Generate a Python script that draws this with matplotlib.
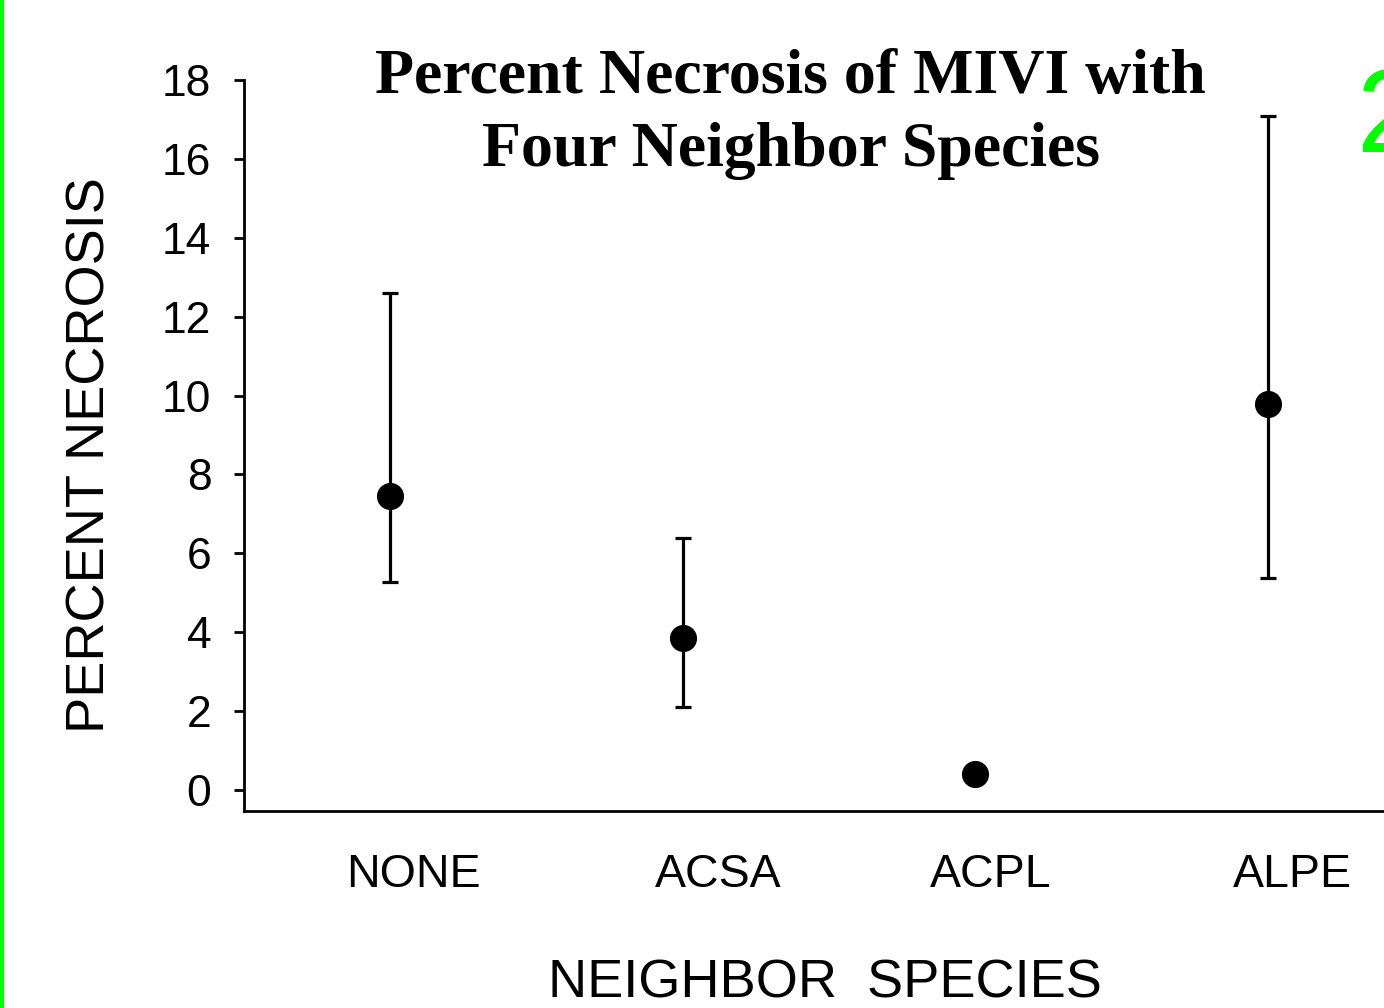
import matplotlib
matplotlib.use("Agg")
import matplotlib.pyplot as plt
from matplotlib.patches import Rectangle
import numpy as np

# ---- data ----
categories = ["NONE", "ACSA", "ACPL", "ALPE"]
means = [7.45, 3.85, 0.41, 9.79]
upper = [12.61, 6.39, 0.41, 17.09]
lower = [5.28, 2.10, 0.41, 5.38]
yticks = [0, 2, 4, 6, 8, 10, 12, 14, 16, 18]
title_lines = ["Percent Necrosis of MIVI with", "Four Neighbor Species"]
xlabel = "NEIGHBOR  SPECIES"
ylabel = "PERCENT NECROSIS"

# ---- figure ----
W, H = 1384, 1008
fig = plt.figure(figsize=(W / 100, H / 100), dpi=100)
fig.patch.set_facecolor("white")

ax_left = 244 / W
ax_w = 1170 / W
ax_bottom = (H - 811) / H
ax_h = (811 - 80) / H
ax = fig.add_axes([ax_left, ax_bottom, ax_w, ax_h])

x = np.arange(1, len(categories) + 1)
m = np.array(means)
yerr = np.vstack([m - np.array(lower), np.array(upper) - m])

ax.errorbar(x, m, yerr=yerr, fmt="o", color="black", ms=18.5,
            elinewidth=2.3, capsize=5.5, capthick=2.3, zorder=3)

ax.set_xlim(0.5, 4.5)
ax.set_ylim(-0.53, 18)
ax.set_yticks(yticks)
ax.set_yticklabels([str(t) for t in yticks], fontsize=32, family="Liberation Sans")
label_nudge = [0.079, 0.12, 0.054, 0.086]
ax.set_xticks(x + np.array(label_nudge))
ax.set_xticklabels(categories, fontsize=33.5, family="Liberation Sans")

for s in ["top", "right"]:
    ax.spines[s].set_visible(False)
for s in ["left", "bottom"]:
    ax.spines[s].set_linewidth(2.0)
ax.tick_params(axis="y", length=7.5, width=2.0, pad=16, direction="out")
ax.tick_params(axis="x", length=0, pad=30)

# axis labels
fig.text(825 / W, 1 - 998 / H, xlabel, fontsize=39, family="Liberation Sans",
         ha="center", va="baseline")
fig.text(105 / W, 1 - 455 / H, ylabel, fontsize=39, family="Liberation Sans",
         rotation=90, rotation_mode="anchor", ha="center", va="baseline")

# title
fig.text(790 / W, 1 - 93 / H, title_lines[0], fontsize=46, family="Liberation Serif",
         weight="bold", ha="center", va="baseline")
fig.text(791 / W, 1 - 166 / H, title_lines[1], fontsize=46, family="Liberation Serif",
         weight="bold", ha="center", va="baseline")

# green border decoration and partial "2"
fig.add_artist(Rectangle((0, 0), 4 / W, 1, transform=fig.transFigure,
                         color="#00ff00", lw=0))
fig.text(1356 / W, 1 - 152 / H, "2", fontsize=85, family="Liberation Sans",
         color="#00ff00", ha="left", va="baseline")

fig.savefig("out.png", dpi=100, facecolor="white")
